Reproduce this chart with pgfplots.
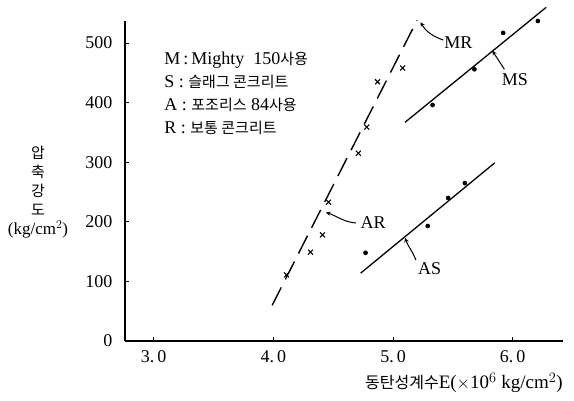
\documentclass[border=0pt]{standalone}
\usepackage{fontspec}
\setmainfont{Liberation Serif}
\newfontfamily\kr{Noto Sans CJK KR}
\usepackage{pgfplots}
\pgfplotsset{compat=1.18}
\begin{document}
\begin{tikzpicture}[x=1pt,y=1pt]
\path (0,0) rectangle (574,400);
\begin{axis}[
  at={(125pt,59pt)}, anchor=south west,
  width=438pt, height=320pt, scale only axis,
  xmin=2.76, xmax=6.42, ymin=0, ymax=537,
  axis x line*=bottom, axis y line*=left,
  xtick={3,4,5,6}, xticklabels={3.\,0,4.\,0,5.\,0,6.\,0},
  ytick={0,100,200,300,400,500},
  tick align=inside, major tick length=4pt,
  axis line style={line width=1.4pt},
  every tick/.style={black, line width=1pt},
  /pgf/number format/assume math mode=true,
  ticklabel style={font=\fontsize{18}{18}\selectfont},
  yticklabel style={xshift=-9pt},
  xticklabel style={yshift=-6pt},
  clip=false,
]
% MS line and points
\addplot[black, line width=1.3pt] coordinates {(5.10,367) (6.28,560)};
\addplot[only marks, mark=*, mark size=2.1pt, black] coordinates {
  (5.33,396) (5.68,456) (5.92,517) (6.21,537)};
% AS line and points
\addplot[black, line width=1.3pt] coordinates {(4.73,114) (5.85,299)};
\addplot[only marks, mark=*, mark size=2.1pt, black] coordinates {
  (4.77,148) (5.29,193) (5.46,240) (5.60,265)};
% R dashed line and points
\addplot[black, line width=1.4pt, dash pattern=on 20pt off 9pt] coordinates {(3.99,60) (5.20,538)};
\addplot[only marks, mark=x, mark size=3.5pt, black, mark options={line width=1.1pt}] coordinates {
  (4.11,111) (4.31,149) (4.41,178) (4.46,233) (4.71,315) (4.78,359) (4.87,435) (5.08,458)};
% labels with arrows
\node[anchor=west, font=\fontsize{18}{18}\selectfont] at (axis cs:5.40,500) {MR};
\draw[->, >=stealth, line width=1pt] (axis cs:5.42,505) to[out=160,in=-60] (axis cs:5.23,535);
\node[anchor=west, font=\fontsize{18}{18}\selectfont] at (axis cs:5.88,438) {MS};
\draw[->, >=stealth, line width=1pt] (axis cs:5.93,456) -- (axis cs:5.83,487);
\node[anchor=west, font=\fontsize{18}{18}\selectfont] at (axis cs:4.70,198) {AR};
\draw[->, >=stealth, line width=1pt] (axis cs:4.69,198) to[out=175,in=-20] (axis cs:4.44,216);
\node[anchor=west, font=\fontsize{18}{18}\selectfont] at (axis cs:5.18,121) {AS};
\draw[->, >=stealth, line width=1pt] (axis cs:5.19,136) to[out=110,in=-70] (axis cs:5.10,173);
% legend text
\node[anchor=west, font=\fontsize{18}{18}\selectfont] at (axis cs:3.06,471) {M\,:\,Mighty\ \ 150{\kr\fontsize{15}{15}\selectfont 사용}};
\node[anchor=west, font=\fontsize{18}{18}\selectfont] at (axis cs:3.06,434) {S\ :\ {\kr\fontsize{15}{15}\selectfont 슬래그 콘크리트}};
\node[anchor=west, font=\fontsize{18}{18}\selectfont] at (axis cs:3.06,397) {A\ :\ {\kr\fontsize{15}{15}\selectfont 포조리스} 84{\kr\fontsize{15}{15}\selectfont 사용}};
\node[anchor=west, font=\fontsize{18}{18}\selectfont] at (axis cs:3.06,358) {R\ :\ {\kr\fontsize{15}{15}\selectfont 보통 콘크리트}};
\end{axis}
\node[align=center, font=\fontsize{17}{19}\selectfont] at (38,208) {{\kr\fontsize{15}{15}\selectfont 압}\\{\kr\fontsize{15}{15}\selectfont 축}\\{\kr\fontsize{15}{15}\selectfont 강}\\{\kr\fontsize{15}{15}\selectfont 도}\\(kg/cm$^2$)};
\node[font=\fontsize{19}{19}\selectfont] at (464,17) {{\kr\fontsize{16}{16}\selectfont 동탄성계수}E($\times$10$^6$ kg/cm$^2$)};
\end{tikzpicture}
\end{document}
